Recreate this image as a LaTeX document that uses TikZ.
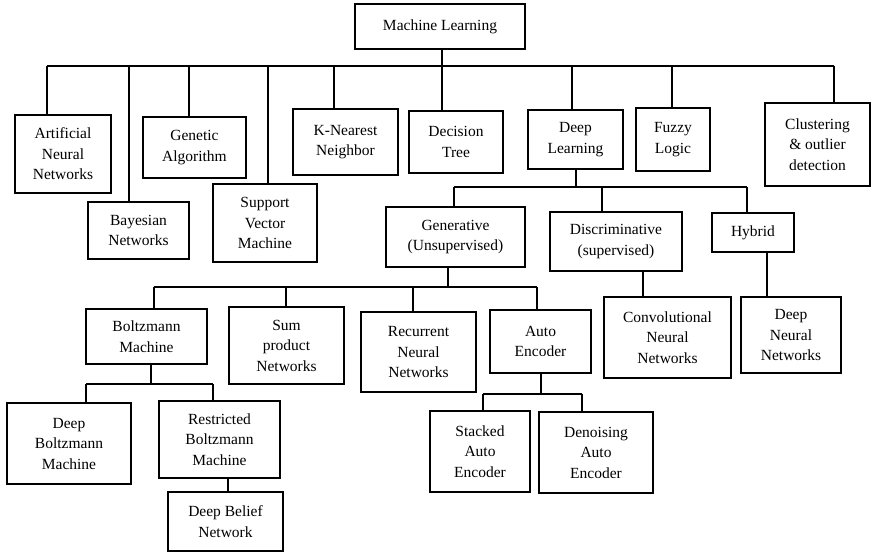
\documentclass[tikz,border=0pt]{standalone}
\usepackage{fontspec}
\setmainfont{Liberation Serif}
\begin{document}
\begin{tikzpicture}[x=1pt,y=-1pt,
  box/.style={draw=black,line width=1.6pt,inner sep=0pt,align=center,
    font=\fontsize{15.5}{20.5}\selectfont},
  conn/.style={draw=black,line width=1.3pt}]
\useasboundingbox (0,0) rectangle (873,552);
\newcommand\bx[6]{%
  \pgfmathsetmacro\bw{#4-#2}\pgfmathsetmacro\bh{#5-#3}%
  \pgfmathsetmacro\cx{(#2+#4)/2}\pgfmathsetmacro\cy{(#3+#5)/2}%
  \node[box,minimum width=\bw pt,minimum height=\bh pt] (#1) at (\cx,\cy) {#6};}
\newcommand\drop[3]{\draw[conn] (#1,#2) -- (#1,0 |- #3.north);}
% boxes
\bx{ml}{355}{4}{525}{49}{Machine Learning}
\bx{ann}{15}{115}{111}{193}{Artificial\\Neural\\Networks}
\bx{bay}{88}{202}{189}{259}{Bayesian\\Networks}
\bx{gen}{143}{117}{246}{178}{Genetic\\Algorithm}
\bx{svm}{213}{184}{317}{262}{Support\\Vector\\Machine}
\bx{knn}{293}{109}{398}{175}{K-Nearest\\Neighbor}
\bx{dt}{409}{111}{503}{173}{Decision\\Tree}
\bx{dl}{528}{110}{623}{169}{Deep\\Learning}
\bx{fz}{636}{108}{710}{171}{Fuzzy\\Logic}
\bx{cl}{765}{103}{870}{186}{Clustering\\\& outlier\\detection}
\bx{gv}{386}{207}{525}{267}{Generative\\(Unsupervised)}
\bx{dc}{550}{212}{682}{271}{Discriminative\\(supervised)}
\bx{hy}{712}{213}{794}{252}{Hybrid}
\bx{cnn}{604}{297}{731}{378}{Convolutional\\Neural\\Networks}
\bx{dnn}{741}{297}{841}{373}{Deep\\Neural\\Networks}
\bx{bm}{86}{309}{207}{364}{Boltzmann\\Machine}
\bx{sp}{229}{307}{344}{384}{Sum\\product\\Networks}
\bx{rnn}{361}{312}{476}{392}{Recurrent\\Neural\\Networks}
\bx{ae}{490}{310}{591}{373}{Auto\\Encoder}
\bx{dbm}{7}{403}{131}{484}{Deep\\Boltzmann\\Machine}
\bx{rbm}{159}{401}{280}{478}{Restricted\\Boltzmann\\Machine}
\bx{dbn}{168}{492}{283}{551}{Deep Belief\\Network}
\bx{sae}{430}{411}{530}{492}{Stacked\\Auto\\Encoder}
\bx{dae}{539}{412}{653}{493}{Denoising\\Auto\\Encoder}
% level 1
\coordinate (b1L) at (47,66); \coordinate (b1R) at (834,66);
\draw[conn] (b1L) -- (b1R);
\draw[conn] (442,0 |- ml.south) -- (442,66);
\drop{47}{66}{ann}\drop{129}{66}{bay}\drop{189}{66}{gen}\drop{268}{66}{svm}
\drop{334}{66}{knn}\drop{442}{66}{dt}\drop{572}{66}{dl}\drop{672}{66}{fz}\drop{834}{66}{cl}
% deep learning
\coordinate (b2L) at (454,187); \coordinate (b2R) at (747,187);
\draw[conn] (b2L) -- (b2R);
\draw[conn] (576,0 |- dl.south) -- (576,187);
\drop{454}{187}{gv}\drop{602}{187}{dc}\drop{747}{187}{hy}
\draw[conn] (643,0 |- dc.south) -- (643,0 |- cnn.north);
\draw[conn] (767,0 |- hy.south) -- (767,0 |- dnn.north);
% generative
\coordinate (b3L) at (154,287); \coordinate (b3R) at (537,287);
\draw[conn] (b3L) -- (b3R);
\draw[conn] (448,0 |- gv.south) -- (448,287);
\drop{154}{287}{bm}\drop{286}{287}{sp}\drop{413}{287}{rnn}\drop{537}{287}{ae}
% boltzmann
\coordinate (b4L) at (86,384); \coordinate (b4R) at (213,384);
\draw[conn] (b4L) -- (b4R);
\draw[conn] (151,0 |- bm.south) -- (151,384);
\drop{86}{384}{dbm}\drop{213}{384}{rbm}
\draw[conn] (228,0 |- rbm.south) -- (228,0 |- dbn.north);
% auto encoder
\coordinate (b5L) at (483,394); \coordinate (b5R) at (582,394);
\draw[conn] (b5L) -- (b5R);
\draw[conn] (541,0 |- ae.south) -- (541,394);
\drop{483}{394}{sae}\drop{582}{394}{dae}
\end{tikzpicture}
\end{document}
